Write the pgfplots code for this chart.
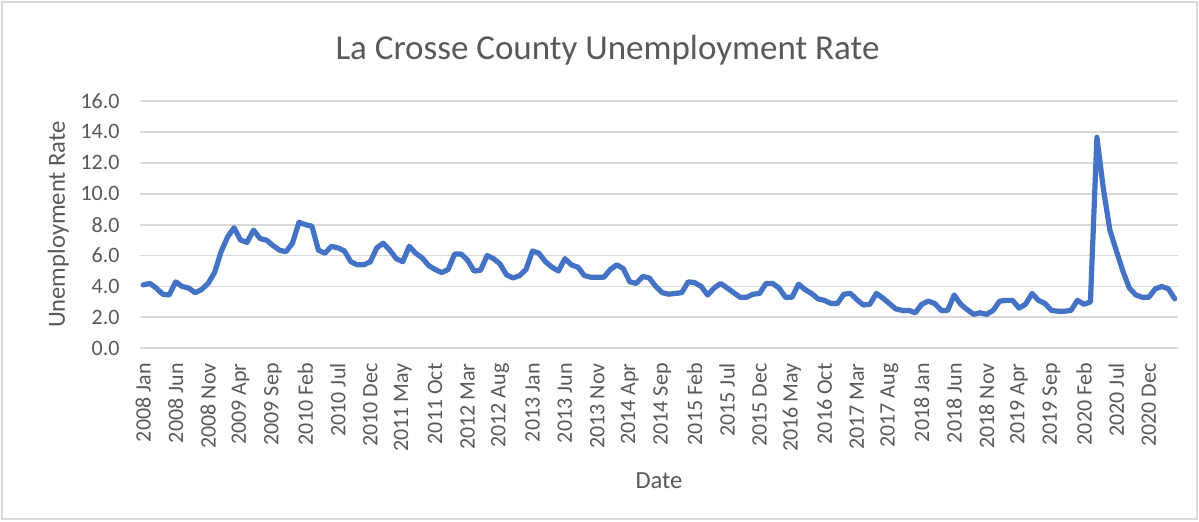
\documentclass[border=0pt]{standalone}
\usepackage{pgfplots}
\pgfplotsset{compat=1.18}
\usepackage{fontspec}
\setmainfont{Carlito}
\definecolor{txtgrey}{HTML}{595959}
\definecolor{gridgrey}{HTML}{D9D9D9}
\definecolor{linecol}{HTML}{4472C4}
\begin{document}
\begin{tikzpicture}
\path[use as bounding box] (0,0) rectangle (599.5pt,260.5pt);
\fill[white] (0,0) rectangle (599.5pt,260.5pt);
\draw[gridgrey, line width=0.6pt] (1pt,1pt) rectangle (598.5pt,259.5pt);
\begin{axis}[
  at={(70pt,86.35pt)}, anchor=south west,
  scale only axis, width=519pt, height=123.65pt,
  xmin=-0.5, xmax=159.5, ymin=0, ymax=16,
  axis line style={draw=none},
  tick style={draw=none},
  ymajorgrids, grid style={gridgrey, line width=0.9pt},
  ytick={0,2,...,16},
  yticklabels={0.0,2.0,4.0,6.0,8.0,10.0,12.0,14.0,16.0},
  xtick={0,5,...,155},
  xticklabels={2008 Jan,2008 Jun,2008 Nov,2009 Apr,2009 Sep,2010 Feb,2010 Jul,2010 Dec,2011 May,2011 Oct,2012 Mar,2012 Aug,2013 Jan,2013 Jun,2013 Nov,2014 Apr,2014 Sep,2015 Feb,2015 Jul,2015 Dec,2016 May,2016 Oct,2017 Mar,2017 Aug,2018 Jan,2018 Jun,2018 Nov,2019 Apr,2019 Sep,2020 Feb,2020 Jul,2020 Dec},
  yticklabel style={font=\fontsize{11}{13}\selectfont, text=txtgrey, inner sep=0pt, anchor=east, xshift=-10pt},
  xticklabel style={font=\fontsize{11}{13}\selectfont, text=txtgrey, inner sep=0pt, rotate=90, anchor=east, yshift=0pt, xshift=-7.35pt},
  every axis y label/.style={at={(axis description cs:-0.0723,0.5)}, rotate=90, anchor=base},
  every axis x label/.style={at={(axis description cs:0.5,-0.565)}, anchor=base},
  ylabel={Unemployment Rate},
  xlabel={Date},
  label style={font=\fontsize{12.3}{14}\selectfont, text=txtgrey},
  title={La Crosse County Unemployment Rate},
  title style={at={(axis description cs:0.4504,1.12)}, anchor=base, font=\fontsize{17.5}{20}\selectfont, text=txtgrey},
]
\addplot[linecol, line width=2.6pt, line join=round, line cap=round, mark=none] coordinates {
(0,4.1) (1,4.2) (2,3.9) (3,3.5) (4,3.45) (5,4.3) (6,4.0) (7,3.9) (8,3.6) (9,3.8)
(10,4.2) (11,4.9) (12,6.25) (13,7.2) (14,7.8) (15,7.0) (16,6.85) (17,7.65) (18,7.1) (19,7.0)
(20,6.65) (21,6.35) (22,6.25) (23,6.8) (24,8.15) (25,8.0) (26,7.9) (27,6.35) (28,6.15) (29,6.6)
(30,6.5) (31,6.3) (32,5.6) (33,5.4) (34,5.4) (35,5.6) (36,6.5) (37,6.8) (38,6.35) (39,5.8)
(40,5.6) (41,6.6) (42,6.15) (43,5.85) (44,5.35) (45,5.1) (46,4.9) (47,5.1) (48,6.1) (49,6.1)
(50,5.7) (51,5.0) (52,5.05) (53,6.0) (54,5.8) (55,5.45) (56,4.75) (57,4.55) (58,4.7) (59,5.1)
(60,6.3) (61,6.15) (62,5.6) (63,5.25) (64,5.0) (65,5.8) (66,5.4) (67,5.25) (68,4.7) (69,4.6)
(70,4.6) (71,4.6) (72,5.1) (73,5.4) (74,5.15) (75,4.3) (76,4.2) (77,4.65) (78,4.55) (79,4.0)
(80,3.6) (81,3.5) (82,3.55) (83,3.6) (84,4.3) (85,4.25) (86,4.0) (87,3.45) (88,3.9) (89,4.2)
(90,3.9) (91,3.6) (92,3.3) (93,3.3) (94,3.5) (95,3.55) (96,4.2) (97,4.2) (98,3.9) (99,3.3)
(100,3.3) (101,4.15) (102,3.8) (103,3.55) (104,3.2) (105,3.1) (106,2.9) (107,2.9) (108,3.5) (109,3.55)
(110,3.15) (111,2.8) (112,2.85) (113,3.55) (114,3.25) (115,2.9) (116,2.55) (117,2.45) (118,2.45) (119,2.3)
(120,2.85) (121,3.05) (122,2.9) (123,2.45) (124,2.45) (125,3.45) (126,2.85) (127,2.5) (128,2.2) (129,2.3)
(130,2.2) (131,2.45) (132,3.05) (133,3.1) (134,3.1) (135,2.6) (136,2.85) (137,3.55) (138,3.1) (139,2.9)
(140,2.45) (141,2.4) (142,2.4) (143,2.45) (144,3.1) (145,2.85) (146,3.0) (147,13.65) (148,10.3) (149,7.65)
(150,6.3) (151,5.0) (152,3.9) (153,3.45) (154,3.3) (155,3.3) (156,3.85) (157,4.0) (158,3.85) (159,3.2)
};
\end{axis}
\end{tikzpicture}
\end{document}
